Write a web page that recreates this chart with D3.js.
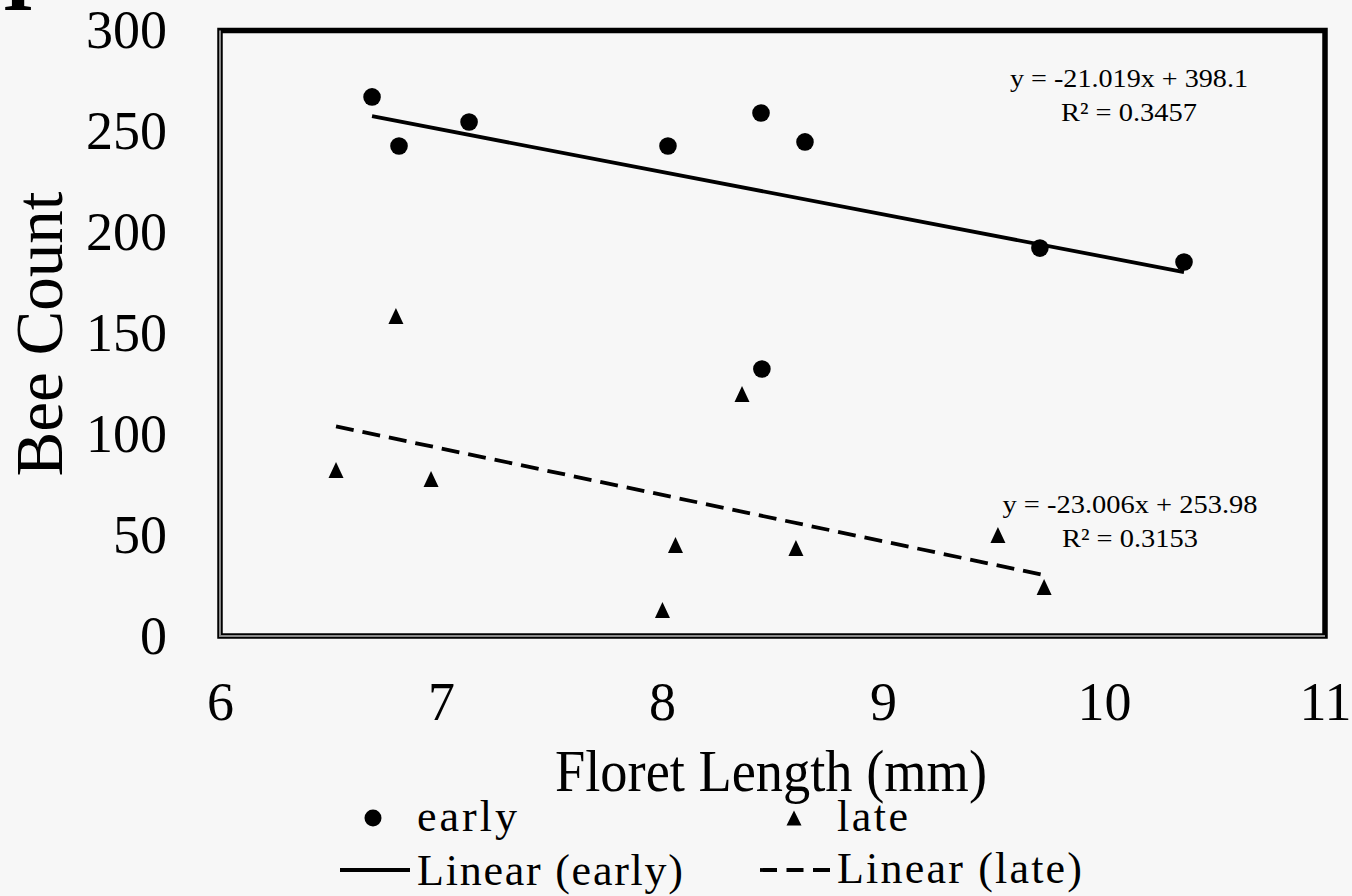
<!DOCTYPE html>
<html>
<head>
<meta charset="utf-8">
<script src="https://cdn.jsdelivr.net/npm/d3@7"></script>
<style>
  html, body { margin: 0; padding: 0; background: #f7f7f7; }
  svg { display: block; }
  text { font-family: "Liberation Serif", "Times New Roman", serif; fill: #000; }
</style>
</head>
<body>
<svg id="chart" width="1352" height="896"></svg>
<script>
// Floret length (mm) vs. bee count, early and late season
const earlyX = [6.688, 6.810, 7.127, 8.027, 8.448, 8.647, 9.710, 10.362, 8.452];
const earlyY = [267.1, 242.8, 254.7, 242.8, 259.1, 244.8, 192.2, 185.3, 132.3];
const lateX  = [6.525, 6.796, 6.955, 8.002, 8.061, 8.362, 8.606, 9.520, 9.729];
const lateY  = [82.3, 158.6, 77.8, 12.9, 45.1, 119.9, 43.6, 50.0, 24.3];

// Linear trendlines: [slope, intercept, R²]
const earlyFit = [-21.019, 398.1, 0.3457];
const lateFit  = [-23.006, 253.98, 0.3153];
const earlyEq = ["y = -21.019x + 398.1", "R² = 0.3457"];
const lateEq  = ["y = -23.006x + 253.98", "R² = 0.3153"];

const xTicks = [6, 7, 8, 9, 10, 11];
const yTicks = [0, 50, 100, 150, 200, 250, 300];
const xTitle = "Floret Length (mm)";
const yTitle = "Bee Count";
const legendLabels = ["early", "late", "Linear (early)", "Linear (late)"];

const svg = d3.select("#chart");
const x = d3.scaleLinear().domain([6, 11]).range([220, 1325]);
const y = d3.scaleLinear().domain([0, 300]).range([636, 30.5]);

// cropped panel letter at the top-left corner
svg.append("text").attr("x", 18).attr("y", 10)
  .attr("text-anchor", "middle").attr("font-size", 80).attr("font-weight", "bold")
  .text("I");

// plot frame
svg.append("rect")
  .attr("x", x(6)).attr("y", y(300))
  .attr("width", x(11) - x(6)).attr("height", y(0) - y(300))
  .attr("fill", "none").attr("stroke", "#000").attr("stroke-width", 5.5);
svg.append("path")
  .attr("d", `M${x(6)},${y(300)}V${y(0)}H${x(11)}`)
  .attr("fill", "none").attr("stroke", "#8a8a8a").attr("stroke-width", 2);

// axes
const yAxis = svg.append("g").attr("transform", `translate(${x(6)},0)`)
  .call(d3.axisLeft(y).tickValues(yTicks).tickSize(0).tickPadding(53).tickFormat(d3.format("d")));
const xAxis = svg.append("g").attr("transform", `translate(0,${y(0)})`)
  .call(d3.axisBottom(x).tickValues(xTicks).tickSize(0).tickPadding(46).tickFormat(d3.format("d")));
[xAxis, yAxis].forEach(g => {
  g.select(".domain").remove();
  g.selectAll("text").attr("font-size", 54).attr("fill", "#000")
    .style("font-family", '"Liberation Serif", "Times New Roman", serif');
});

// axis titles
svg.append("text").attr("x", 771).attr("y", 791)
  .attr("text-anchor", "middle").attr("font-size", 60)
  .attr("textLength", 432).attr("lengthAdjust", "spacingAndGlyphs")
  .text(xTitle);
svg.append("text")
  .attr("transform", "translate(62,334) rotate(-90)")
  .attr("text-anchor", "middle").attr("font-size", 67)
  .attr("textLength", 285).attr("lengthAdjust", "spacingAndGlyphs")
  .text(yTitle);

// trendlines
function fitLine(xs, fit) {
  const ext = d3.extent(xs);
  return ext.map(v => [x(v), y(fit[0] * v + fit[1])]);
}
const line = d3.line();
svg.append("path").attr("d", line(fitLine(earlyX, earlyFit)))
  .attr("fill", "none").attr("stroke", "#000").attr("stroke-width", 3.8);
svg.append("path").attr("d", line(fitLine(lateX, lateFit)))
  .attr("fill", "none").attr("stroke", "#000").attr("stroke-width", 3.8)
  .attr("stroke-dasharray", "18,9");

// markers
const triPath = (cx, cy, w, h) =>
  `M${cx},${cy - h / 2}L${cx + w / 2},${cy + h / 2}L${cx - w / 2},${cy + h / 2}Z`;

svg.append("g").selectAll("circle")
  .data(d3.zip(earlyX, earlyY)).join("circle")
  .attr("cx", d => x(d[0])).attr("cy", d => y(d[1])).attr("r", 8.8).attr("fill", "#000");
svg.append("g").selectAll("path")
  .data(d3.zip(lateX, lateY)).join("path")
  .attr("d", d => triPath(x(d[0]), y(d[1]), 15, 16)).attr("fill", "#000");

// trendline equations
function equation(lines, cx, y0, widths) {
  lines.forEach((t, i) => {
    svg.append("text").attr("x", cx).attr("y", y0 + i * 34)
      .attr("text-anchor", "middle").attr("font-size", 26)
      .attr("textLength", widths[i]).attr("lengthAdjust", "spacingAndGlyphs")
      .text(t);
  });
}
equation(earlyEq, 1129, 87, [238, 136]);
equation(lateEq, 1130, 513, [255, 136]);

// legend
const lg = svg.append("g");
lg.append("circle").attr("cx", 373).attr("cy", 818).attr("r", 8.5).attr("fill", "#000");
lg.append("path").attr("d", triPath(794, 818, 15, 15)).attr("fill", "#000");
lg.append("line").attr("x1", 340).attr("x2", 410).attr("y1", 870).attr("y2", 870)
  .attr("stroke", "#000").attr("stroke-width", 3.8);
lg.append("line").attr("x1", 760).attr("x2", 830).attr("y1", 870).attr("y2", 870)
  .attr("stroke", "#000").attr("stroke-width", 3.8).attr("stroke-dasharray", "17,9.5");
const legendPos = [[417, 831, 100], [837, 831, 71], [417, 885, 266], [837, 883, 245]];
legendLabels.forEach((t, i) => {
  const [lx, ly, w] = legendPos[i];
  lg.append("text").attr("x", lx).attr("y", ly).attr("font-size", 44)
    .attr("textLength", w).attr("lengthAdjust", "spacing").text(t);
});
</script>
</body>
</html>
